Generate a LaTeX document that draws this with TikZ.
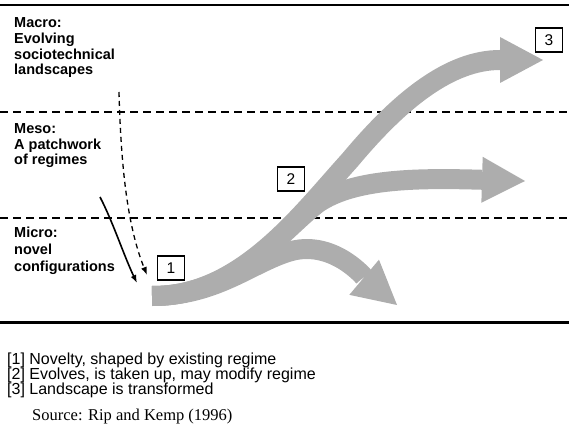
\documentclass[tikz,border=0pt]{standalone}
\usepackage{fontspec}
\setmainfont{Liberation Sans}
\newfontfamily\timesfont{Liberation Serif}
\usetikzlibrary{arrows.meta}
\colorlet{arrowgray}{black!32}

\begin{document}
\begin{tikzpicture}[x=1pt,y=-1pt]
\useasboundingbox (0,0) rectangle (569,443);
\tikzset{LevelText/.style ={inner sep=0, anchor=base west, align=left, font=\fontsize{14.5}{15.8}\selectfont\bfseries}}
\tikzset{NumBox/.style ={draw, line width=1.3pt, minimum width=27pt, minimum height=24pt, inner sep=0, font=\fontsize{15.5}{15.5}\selectfont}}
\tikzset{LevelLine/.style ={dashed, dash pattern=on 8pt off 5pt, line width=1.5pt}}
\tikzset{BroadArrow/.style ={draw=arrowgray, line width=20pt, -{Triangle[length=43pt, width=46pt, line width=0pt]}}}
% frame lines
\coordinate (topL) at (0,5);
\coordinate (topR) at (569,5);
\coordinate (botL) at (0,322);
\coordinate (botR) at (569,322);
\draw[line width=2pt] (topL) -- (topR);
\draw[line width=3pt] (botL) -- (botR);
% level boundaries
\coordinate (upL) at (0,112);
\coordinate (upR) at (569,112);
\coordinate (lowL) at (0,218);
\coordinate (lowR) at (569,218);
\draw[LevelLine] (upL) -- (upR);
\draw[LevelLine] (lowL) -- (lowR);
% level labels (anchored on the last line)
\node[LevelText] (macro) at (14,75) {Macro:\\Evolving\\sociotechnical\\landscapes};
\node[LevelText] (meso) at (14,165) {Meso:\\A patchwork\\of regimes};
\node[LevelText, font=\fontsize{14.5}{17}\selectfont\bfseries] (micro) at (14,271) {Micro:\\novel\\configurations};
% pressures from above
\coordinate (dashstart) at (119,92);
\coordinate (dashend) at (147,275);
\draw[dashed, dash pattern=on 5pt off 4pt, line width=1.3pt, -{Latex[length=8pt,width=6pt]}]
  (dashstart) .. controls (121,170) and (128,228) .. (dashend);
\coordinate (solidstart) at (100,197);
\coordinate (solidend) at (137,283);
\draw[line width=1.6pt, -{Latex[length=8pt,width=6pt]}]
  (solidstart) .. controls (113,222) and (124,256) .. (solidend);
% broad grey trajectories
\coordinate (root) at (152,296);
\coordinate (tipA) at (397,305);
\coordinate (tipB) at (525,181);
\coordinate (tipC) at (543,60);
\draw[BroadArrow] (root) .. controls (215,296) and (250,264) .. (288,252)
  .. controls (332,238) and (365,278) .. (tipA);
\draw[BroadArrow] (root) .. controls (235,296) and (280,232) .. (318,203)
  .. controls (355,178) and (420,178) .. (tipB);
\draw[BroadArrow] (root) .. controls (240,297) and (300,215) .. (350,160)
  .. controls (400,100) and (450,60) .. (tipC);
% stage numbers
\node[NumBox] (one) at (171,268) {1};
\node[NumBox] (two) at (291,179) {2};
\node[NumBox] (three) at (549,40) {3};
% key
\node[inner sep=0, anchor=base west, align=left, font=\fontsize{16}{15}\selectfont] (key) at (7,394)
  {[1] Novelty, shaped by existing regime\\{[2]} Evolves, is taken up, may modify regime\\{[3]} Landscape is transformed};
\node[inner sep=0, anchor=base west, font=\timesfont\fontsize{16.5}{16.5}\selectfont] (source) at (32,420) {Source: Rip and Kemp (1996)};
\end{tikzpicture}
\end{document}
